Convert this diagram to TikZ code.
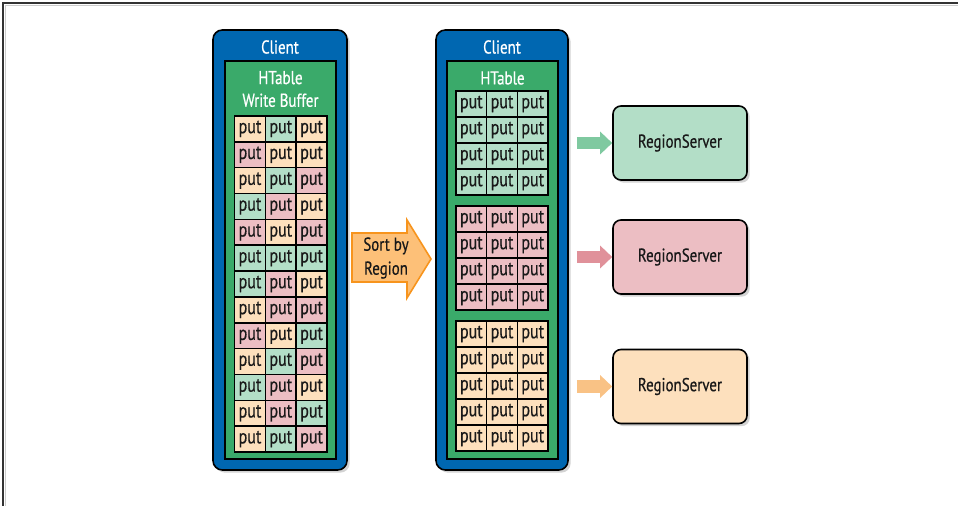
\documentclass[tikz,border=0pt]{standalone}
\usepackage{fontspec}
\setmainfont{PT Sans}[FakeStretch=0.8, FakeBold=0.5]
\usetikzlibrary{arrows.meta,shadows,calc}
\definecolor{clientblue}{RGB}{0,103,177}
\definecolor{tablegreen}{RGB}{58,170,106}
\definecolor{putO}{RGB}{253,224,189}
\definecolor{putG}{RGB}{179,222,199}
\definecolor{putP}{RGB}{236,190,195}
\definecolor{arrG}{RGB}{127,201,160}
\definecolor{arrP}{RGB}{224,145,154}
\definecolor{arrO}{RGB}{249,194,133}
\definecolor{sortfill}{RGB}{253,192,120}
\definecolor{sortdraw}{RGB}{247,148,29}
\tikzset{
  client/.style = {draw=black, line width=1.2pt, fill=clientblue, rounded corners=7pt, inner sep=0pt,
                   drop shadow={shadow xshift=2pt, shadow yshift=-2pt, opacity=0.35}},
  htable/.style = {draw=black, line width=1.2pt, fill=tablegreen, inner sep=0pt},
  title/.style = {text=white, font=\fontsize{14}{16}\selectfont, inner sep=0pt},
  putcell/.style = {draw=black, line width=1.2pt, text=black!90, minimum width=23.1pt, minimum height=19.4pt,
                    inner sep=0pt, font=\fontsize{15}{16}\selectfont},
  rserver/.style = {draw=black, line width=1.2pt, rounded corners=6pt, minimum width=100.5pt, minimum height=55.5pt,
                    text=black!90, font=\fontsize{14}{16}\selectfont,
                    drop shadow={shadow xshift=2pt, shadow yshift=-2pt, opacity=0.35}},
  feed/.style = {line width=9pt, -{Triangle[length=9pt,width=16.5pt]}},
}
\begin{document}
\begin{tikzpicture}[x=0.75pt,y=-0.75pt]
\useasboundingbox (0,0) rectangle (958,506);
\draw[line width=1pt, black!20] (5.5,506) -- (5.5,5.5) -- (958,5.5);
\draw[line width=1.2pt, black!80] (3,506) -- (3,3) -- (958,3);

% left client with write buffer
\node[client, minimum width=100.5pt, minimum height=330pt] (lc) at (280,250) {};
\node[htable, minimum width=83.25pt, minimum height=298.5pt] (lt) at (280.5,260) {};
\node[title] (lc-t) at (280,47) {Client};
\node[title, align=center] (lt-t) at (280.5,89) {HTable\\[1pt]Write Buffer};
\foreach \a/\b/\c [count=\row] in {O/G/O,P/O/O,O/G/P,G/P/O,P/O/P,G/G/G,G/P/O,O/P/P,P/O/G,O/G/P,G/P/O,O/P/G,O/G/P}
  \foreach \cc [count=\k] in {\a,\b,\c}
    \node[putcell, fill=put\cc] (L-\row-\k) at ({250+30.8*(\k-1)},{128.9+25.85*(\row-1)}) {put};

% sort arrow
\draw[line width=1.2pt, draw=sortdraw, fill=sortfill, line join=miter]
  (352,233) -- (407,233) -- (407,220) -- (431,259) -- (407,298) -- (407,282) -- (352,282) -- cycle;
\node[align=center, text=black!90, font=\fontsize{14}{18}\selectfont, inner sep=0pt] (sort) at (386,258) {Sort by\\Region};

% right client, sorted by region
\node[client, minimum width=99pt, minimum height=330pt] (rc) at (502,250) {};
\node[htable, minimum width=83.25pt, minimum height=298.5pt] (rt) at (502.5,260) {};
\node[title] (rc-t) at (502,47) {Client};
\node[title] (rt-t) at (502.5,78) {HTable};
\foreach \cc/\y/\n in {G/91/4, P/206/4, O/321/5}
  \foreach \row in {1,...,\n}
    \foreach \k in {1,2,3}
      \node[putcell, minimum height=19.5pt, fill=put\cc] (R-\cc-\row-\k) at ({471.35+30.7*(\k-1)},{\y+13+26*(\row-1)}) {put};

% region servers
\node[rserver, fill=putG] (rs1) at (680,143) {RegionServer};
\node[rserver, fill=putP] (rs2) at (680,257) {RegionServer};
\node[rserver, fill=putO] (rs3) at (680,386.5) {RegionServer};
\foreach \cc/\i in {arrG/1, arrP/2, arrO/3}
  \draw[feed, draw=\cc] ($(rc.east |- rs\i)+(8,0)$) -- (rs\i.west);
\end{tikzpicture}
\end{document}
